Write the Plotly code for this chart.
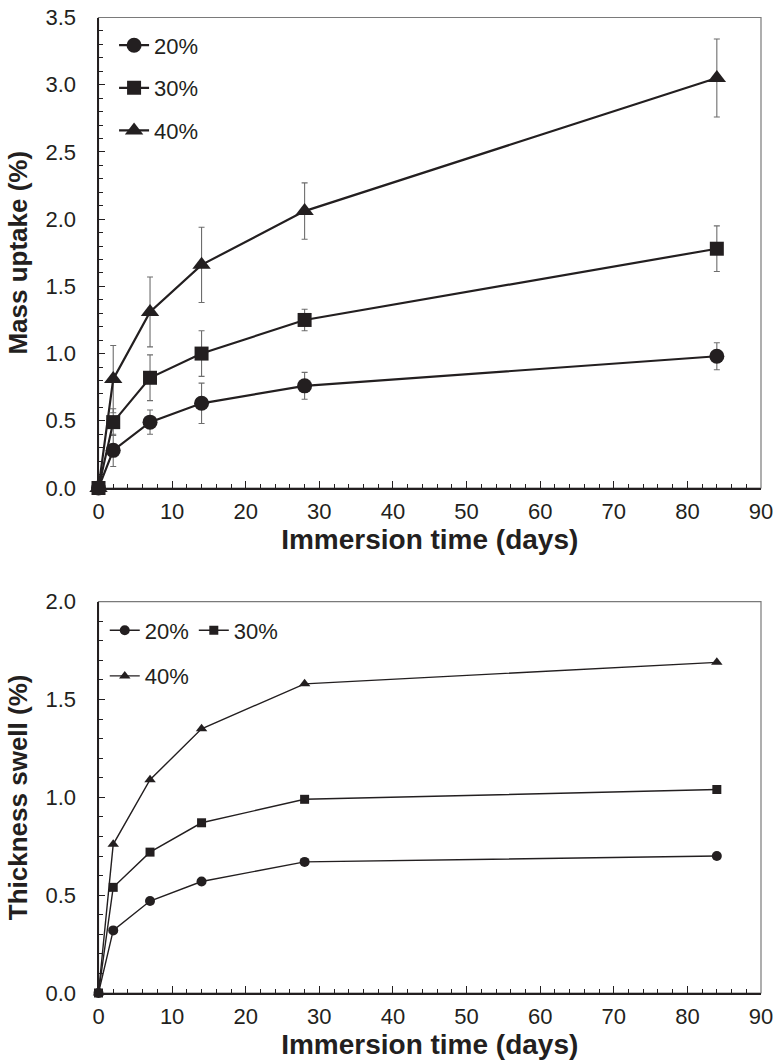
import plotly.graph_objects as go

# ---------------- data ----------------
days = [0, 2, 7, 14, 28, 84]
series_names = ["20%", "30%", "40%"]

mass_20 = [0, 0.28, 0.49, 0.63, 0.76, 0.98]
mass_30 = [0, 0.49, 0.82, 1.00, 1.25, 1.78]
mass_40 = [0, 0.81, 1.31, 1.66, 2.06, 3.05]
mass_err_20 = [0, 0.12, 0.09, 0.15, 0.10, 0.10]
mass_err_30 = [0, 0.10, 0.17, 0.17, 0.08, 0.17]
mass_err_40 = [0, 0.25, 0.26, 0.28, 0.21, 0.29]

swell_20 = [0, 0.32, 0.47, 0.57, 0.67, 0.70]
swell_30 = [0, 0.54, 0.72, 0.87, 0.99, 1.04]
swell_40 = [0, 0.76, 1.09, 1.35, 1.58, 1.69]

x_title = "Immersion time (days)"
y_title_top = "Mass uptake (%)"
y_title_bottom = "Thickness swell (%)"

# ---------------- style ----------------
INK = "#231f20"
FONT = "Liberation Sans, Arial, sans-serif"
symbols = ["circle", "square", "triangle-up"]
top_sizes = [15, 14, 16]
bot_sizes = [10, 9, 10]

fig = go.Figure()

mass = [mass_20, mass_30, mass_40]
mass_err = [mass_err_20, mass_err_30, mass_err_40]
for name, ys, es, sym, sz in zip(series_names, mass, mass_err, symbols, top_sizes):
    fig.add_trace(go.Scatter(
        x=days, y=ys, name=name, mode="lines+markers",
        xaxis="x", yaxis="y", legend="legend", legendgroup="t" + name,
        line=dict(color=INK, width=2.2),
        marker=dict(symbol=sym, size=sz, color=INK),
        error_y=dict(type="data", array=es, visible=True, color="#6d6d6d",
                     thickness=1.1, width=3),
        cliponaxis=False,
    ))

swell = [swell_20, swell_30, swell_40]
for i, (name, ys, sym, sz) in enumerate(zip(series_names, swell, symbols, bot_sizes)):
    fig.add_trace(go.Scatter(
        x=days, y=ys, name=name, mode="lines+markers",
        xaxis="x2", yaxis="y2", legend="legend2" if i < 2 else "legend3",
        line=dict(color=INK, width=1.4),
        marker=dict(symbol=sym, size=sz, color=INK),
        cliponaxis=False,
    ))

x_dom = [98.5 / 776, 761 / 776]
top_dom = [(1060 - 488) / 1060, (1060 - 17.5) / 1060]
bot_dom = [(1060 - 993) / 1060, (1060 - 601.7) / 1060]

def xaxis(anchor):
    return dict(
        domain=x_dom, anchor=anchor, range=[0, 90], dtick=10, tick0=0,
        automargin=False,
        showgrid=False, zeroline=False, showline=True, linecolor=INK, linewidth=2,
        ticks="inside", ticklen=7, tickwidth=1.2, tickcolor=INK,
        minor=dict(dtick=2, ticks="inside", ticklen=4, tickwidth=1, tickcolor=INK),
        tickfont=dict(size=22, color=INK, family=FONT),
        title=dict(text="<b>" + x_title + "</b>", font=dict(size=28, color=INK, family=FONT), standoff=3),
        ticklabelstandoff=3,
    )

def yaxis(anchor, dom, rng, title):
    return dict(
        domain=dom, anchor=anchor, range=rng, dtick=0.5, tick0=0, tickformat=".1f",
        automargin=False,
        showgrid=False, zeroline=False, showline=True, linecolor=INK, linewidth=2,
        ticks="inside", ticklen=6, tickwidth=1.2, tickcolor=INK,
        minor=dict(dtick=0.1, ticks="inside", ticklen=4, tickwidth=1, tickcolor=INK),
        tickfont=dict(size=22, color=INK, family=FONT),
        title=dict(text="<b>" + title + "</b>", font=dict(size=26, color=INK, family=FONT), standoff=10),
        ticklabelstandoff=16,
    )

frame_shapes = []
for xr, yr in [("x domain", "y domain"), ("x2 domain", "y2 domain")]:
    frame_shapes.append(dict(type="rect", xref=xr, yref=yr, x0=0, x1=1, y0=0, y1=1,
                             line=dict(color="#7a7a7a", width=1.2), layer="below"))

legend_font = dict(size=22, color=INK, family=FONT)
fig.update_layout(
    width=776, height=1060,
    margin=dict(l=0, r=0, t=0, b=0, autoexpand=False),
    paper_bgcolor="white", plot_bgcolor="white",
    font=dict(family=FONT, color=INK),
    showlegend=True,
    xaxis=xaxis("y"),
    yaxis=yaxis("x", top_dom, [0, 3.5], y_title_top),
    xaxis2=xaxis("y2"),
    yaxis2=yaxis("x2", bot_dom, [0, 2.0], y_title_bottom),
    legend=dict(x=0.147, y=0.977, xanchor="left", yanchor="top", orientation="v",
                font=legend_font, bgcolor="rgba(0,0,0,0)", tracegroupgap=11,
                itemwidth=30),
    legend2=dict(x=0.135, y=0.425, xanchor="left", yanchor="top", orientation="h",
                 font=legend_font, bgcolor="rgba(0,0,0,0)", itemwidth=30),
    legend3=dict(x=0.135, y=0.382, xanchor="left", yanchor="top", orientation="h",
                 font=legend_font, bgcolor="rgba(0,0,0,0)", itemwidth=30),
    shapes=frame_shapes,
)

fig.write_html(
    "out.html",
    config={"displayModeBar": False},
    post_script="document.body.style.margin='0px';document.body.style.overflow='hidden';",
)
